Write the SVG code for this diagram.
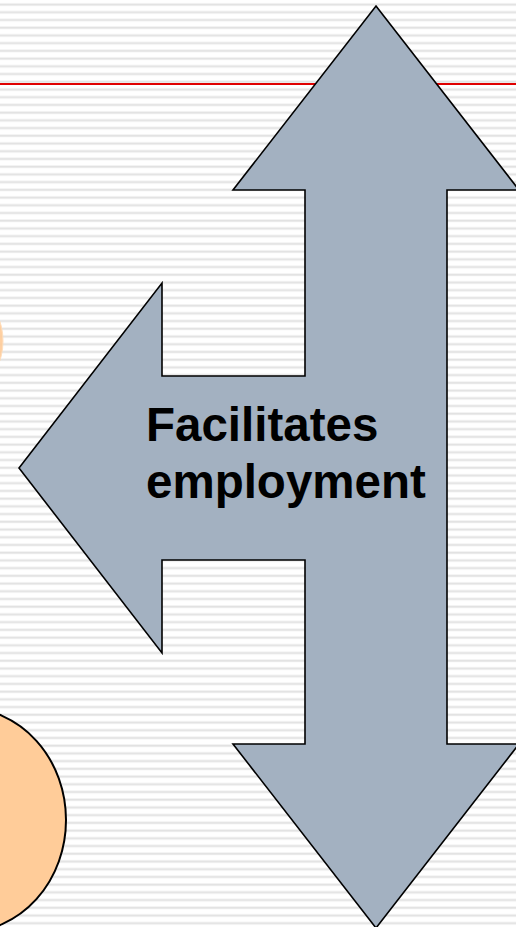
<svg xmlns="http://www.w3.org/2000/svg" width="516" height="927" viewBox="0 0 516 927">
  <defs>
    <pattern id="stripes" x="0" y="0" width="20" height="7.72" patternUnits="userSpaceOnUse">
      <rect x="0" y="3.6" width="20" height="2" fill="#e2e2e2"/>
      <rect x="0" y="3.2" width="20" height="0.4" fill="#efefef"/>
      <rect x="0" y="5.6" width="20" height="0.4" fill="#efefef"/>
    </pattern>
    <style>
      .arrow { fill: #a3b1c1; stroke: #000; stroke-width: 1.6; stroke-linejoin: miter; }
      .blob { fill: #ffcc99; stroke: #000; stroke-width: 2; }
      .label { font-family: "Liberation Sans", Arial, sans-serif; font-weight: bold; font-size: 47.5px; fill: #000; }
    </style>
  </defs>
  <rect x="0" y="0" width="516" height="927" fill="#ffffff"/>
  <rect x="0" y="0" width="516" height="927" fill="url(#stripes)"/>
  <rect x="0" y="83" width="516" height="2" fill="#e00000"/>
  <g id="blob-left">
    <ellipse cx="-21" cy="341" rx="24" ry="40" fill="#ffcc99" stroke="#ffdcb8" stroke-width="1" opacity="0.9"/>
  </g>
  <g id="blob-bottom">
    <ellipse class="blob" cx="-35" cy="820" rx="101" ry="112"/>
  </g>
  <g id="arrow">
    <polygon class="arrow" points="376,6 519,190 447,190 447,744 519,744 376,928 233,744 305,744 305,560 162,560 162,653 19,468 162,283 162,376 305,376 305,190 233,190"/>
    <text class="label" x="146" y="441">Facilitates</text>
    <text class="label" x="146" y="498">employment</text>
  </g>
</svg>
